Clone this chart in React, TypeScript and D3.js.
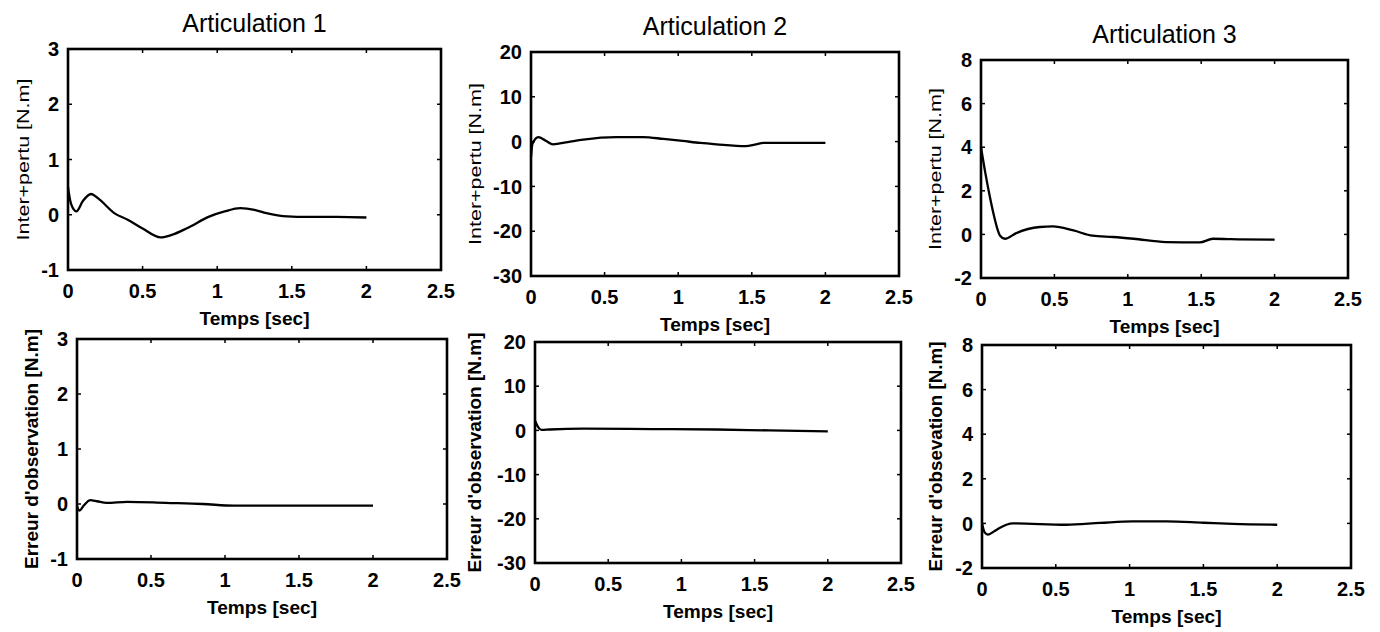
import React from "react";
import * as d3 from "d3";

// time axis ticks (sec)
const xTicks = [0, 0.5, 1, 1.5, 2, 2.5];

// Articulation 1 - Inter+pertu
const t1 = [0, 0.02, 0.056, 0.1, 0.154, 0.2, 0.31, 0.4, 0.5, 0.62, 0.7, 0.8, 0.95, 1.05, 1.155, 1.25, 1.33, 1.47, 1.6, 1.8, 2.0];
const v1 = [0.5, 0.2, 0.06, 0.25, 0.376, 0.3, 0.03, -0.09, -0.25, -0.41, -0.36, -0.24, -0.03, 0.06, 0.12, 0.09, 0.03, -0.03, -0.04, -0.04, -0.05];

// Articulation 2 - Inter+pertu
const t2 = [0, 0.01, 0.05, 0.1, 0.15, 0.25, 0.355, 0.58, 0.76, 0.9, 1.03, 1.15, 1.26, 1.46, 1.52, 1.58, 1.8, 2.0];
const v2 = [-3.5, -0.5, 1.0, 0.2, -0.6, -0.1, 0.45, 1.0, 1.0, 0.6, 0.15, -0.3, -0.6, -1.0, -0.7, -0.3, -0.3, -0.3];

// Articulation 3 - Inter+pertu
const t3 = [0, 0.03, 0.06, 0.084, 0.11, 0.13, 0.163, 0.24, 0.4, 0.49, 0.63, 0.76, 0.9, 1.04, 1.26, 1.49, 1.58, 1.7, 2.0];
const v3 = [4, 2.8, 1.74, 0.98, 0.29, -0.06, -0.2, 0.06, 0.34, 0.37, 0.18, -0.06, -0.12, -0.2, -0.35, -0.37, -0.2, -0.22, -0.24];

// Articulation 1 - Erreur d'observation
const t4 = [0, 0.016, 0.045, 0.09, 0.135, 0.2, 0.34, 0.6, 0.85, 1.06, 1.5, 2.0];
const v4 = [-0.04, -0.12, -0.03, 0.07, 0.05, 0.02, 0.04, 0.02, 0.0, -0.03, -0.03, -0.03];

// Articulation 2 - Erreur d'observation
const t5 = [0, 0.023, 0.045, 0.1, 0.33, 0.8, 1.24, 1.6, 2.0];
const v5 = [2.2, 0.7, 0.1, 0.2, 0.4, 0.3, 0.2, 0.0, -0.2];

// Articulation 3 - Erreur d'observation
const t6 = [0, 0.018, 0.04, 0.1, 0.165, 0.21, 0.57, 0.8, 1.02, 1.25, 1.5, 1.7, 2.0];
const v6 = [0, -0.4, -0.5, -0.28, -0.06, 0.0, -0.06, 0.02, 0.09, 0.09, 0.03, -0.02, -0.06];

const titles = ["Articulation 1", "Articulation 2", "Articulation 3", "", "", ""];
const yLabels = [
  "Inter+pertu [N.m]",
  "Inter+pertu [N.m]",
  "Inter+pertu [N.m]",
  "Erreur d'observation [N.m]",
  "Erreur d'observation [N.m]",
  "Erreur d'obsevation [N.m]",
];
const xLabel = "Temps [sec]";
const yDomains = [[-1, 3], [-30, 20], [-2, 8], [-1, 3], [-30, 20], [-2, 8]];
const yTicks = [
  [-1, 0, 1, 2, 3],
  [-30, -20, -10, 0, 10, 20],
  [-2, 0, 2, 4, 6, 8],
  [-1, 0, 1, 2, 3],
  [-30, -20, -10, 0, 10, 20],
  [-2, 0, 2, 4, 6, 8],
];
const series = [
  [t1, v1],
  [t2, v2],
  [t3, v3],
  [t4, v4],
  [t5, v5],
  [t6, v6],
];

// frame boxes, label offsets
const frames = [
  { l: 68, r: 441, t: 49, b: 270, titleY: 32, ylx: -45, ylLen: 162 },
  { l: 531, r: 899, t: 52, b: 276, titleY: 35, ylx: -56, ylLen: 162 },
  { l: 981, r: 1348, t: 60, b: 278, titleY: 43, ylx: -46, ylLen: 162 },
  { l: 77, r: 447, t: 339, b: 559, titleY: 0, ylx: -45, ylLen: 240 },
  { l: 535, r: 901, t: 342, b: 563, titleY: 0, ylx: -60, ylLen: 240 },
  { l: 982, r: 1351, t: 345, b: 568, titleY: 0, ylx: -46, ylLen: 230 },
];

const font = "'Liberation Sans', Arial, sans-serif";

const Panel = ({ i }: { i: number }) => {
  const f = frames[i];
  const x = d3.scaleLinear().domain([0, 2.5]).range([f.l, f.r]);
  const y = d3.scaleLinear().domain(yDomains[i]).range([f.b, f.t]);
  const [ts, vs] = series[i];
  const pts = ts.map((t, k) => [t, vs[k]] as [number, number]);
  const line = d3
    .line<[number, number]>()
    .x((d) => x(d[0]))
    .y((d) => y(d[1]))
    .curve(d3.curveMonotoneX);
  const tk = 4;
  const cx = (f.l + f.r) / 2;
  const cy = (f.t + f.b) / 2;
  return (
    <g>
      {titles[i] && (
        <text x={cx} y={f.titleY} textAnchor="middle" fontSize={25} fontFamily={font}>
          {titles[i]}
        </text>
      )}
      {xTicks.map((t) => (
        <g key={"x" + t}>
          <line x1={x(t)} x2={x(t)} y1={f.b} y2={f.b - tk} stroke="#000" strokeWidth={1.5} />
          <line x1={x(t)} x2={x(t)} y1={f.t} y2={f.t + tk} stroke="#000" strokeWidth={1.5} />
          <text x={x(t)} y={f.b + 28} textAnchor="middle" fontSize={20} fontWeight="bold" fontFamily={font}>
            {t}
          </text>
        </g>
      ))}
      {yTicks[i].map((v) => (
        <g key={"y" + v}>
          <line x1={f.l} x2={f.l + tk} y1={y(v)} y2={y(v)} stroke="#000" strokeWidth={1.5} />
          <line x1={f.r} x2={f.r - tk} y1={y(v)} y2={y(v)} stroke="#000" strokeWidth={1.5} />
          <text x={f.l - 9} y={y(v)} dy="0.36em" textAnchor="end" fontSize={20} fontWeight="bold" fontFamily={font}>
            {v < 0 ? "-" + Math.abs(v) : v}
          </text>
        </g>
      ))}
      <path d={line(pts) || ""} fill="none" stroke="#000" strokeWidth={2.3} strokeLinejoin="round" />
      <rect x={f.l} y={f.t} width={f.r - f.l} height={f.b - f.t} fill="none" stroke="#000" strokeWidth={2.6} />
      <text x={cx} y={f.b + 55} textAnchor="middle" fontSize={19} fontWeight="bold" fontFamily={font}
        textLength={110} lengthAdjust="spacingAndGlyphs">
        {xLabel}
      </text>
      <text
        transform={`translate(${f.l + f.ylx},${cy}) rotate(-90)`}
        textAnchor="middle"
        dy="0.35em"
        fontSize={i < 3 ? 17 : 18}
        fontWeight={i < 3 ? "normal" : "bold"}
        fontFamily={font}
        textLength={f.ylLen}
        lengthAdjust="spacingAndGlyphs"
      >
        {yLabels[i]}
      </text>
    </g>
  );
};

export default function App() {
  return (
    <svg
      width={1380}
      height={632}
      style={{ position: "absolute", left: 0, top: 0, background: "#fff" }}
    >
      <rect width={1380} height={632} fill="#fff" />
      {frames.map((_, i) => (
        <Panel key={i} i={i} />
      ))}
    </svg>
  );
}
